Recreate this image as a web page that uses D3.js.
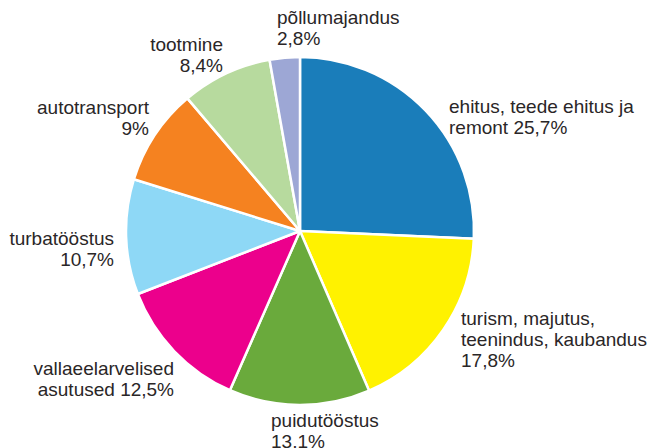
<!DOCTYPE html>
<html>
<head>
<meta charset="utf-8">
<script src="https://cdn.jsdelivr.net/npm/d3@7"></script>
<style>
  html, body { margin: 0; padding: 0; background: #fff; }
  svg { display: block; }
  text { font-family: "Liberation Sans", Arial, sans-serif; font-size: 19px; fill: #2a2627; }
</style>
</head>
<body>
<svg id="chart" width="650" height="448"></svg>
<script>
// Sector shares (%), clockwise from 12 o'clock
const categories = [
  "ehitus, teede ehitus ja remont",
  "turism, majutus, teenindus, kaubandus",
  "puidutööstus",
  "vallaeelarvelised asutused",
  "turbatööstus",
  "autotransport",
  "tootmine",
  "põllumajandus"
];
const values = [25.7, 17.8, 13.1, 12.5, 10.7, 9, 8.4, 2.8];
const colors = ["#1a7dba", "#fff200", "#6aaa3c", "#ec008c", "#8ed8f6", "#f58220", "#b7da9e", "#9da7d5"];
// Label text lines; {v} is replaced by the share
const labelLines = [
  ["ehitus, teede ehitus ja", "remont {v}"],
  ["turism, majutus,", "teenindus, kaubandus", "{v}"],
  ["puidutööstus", "{v}"],
  ["vallaeelarvelised", "asutused {v}"],
  ["turbatööstus", "{v}"],
  ["autotransport", "{v}"],
  ["tootmine", "{v}"],
  ["põllumajandus", "{v}"]
];

const fmt = v => String(v).replace(".", ",") + "%";

const svg = d3.select("#chart");
const cx = 300, cy = 231, r = 174;

const pie = d3.pie().sort(null).value(d => d.value);
const arc = d3.arc().innerRadius(0).outerRadius(r);

const data = categories.map((c, i) => ({ name: c, value: values[i], color: colors[i], lines: labelLines[i] }));
const arcs = pie(data);

const g = svg.append("g").attr("transform", `translate(${cx},${cy})`);
g.selectAll("path")
  .data(arcs)
  .join("path")
  .attr("d", arc)
  .attr("fill", d => d.data.color)
  .attr("stroke", "#fff")
  .attr("stroke-width", 2.5)
  .attr("stroke-linejoin", "round");

// Label placement: first baseline and alignment per slice
const labelPos = [
  { x: 449, y: 113, anchor: "start" },
  { x: 461, y: 325, anchor: "start" },
  { x: 271, y: 427, anchor: "start" },
  { x: 174, y: 375, anchor: "end" },
  { x: 114, y: 245, anchor: "end" },
  { x: 149, y: 114, anchor: "end" },
  { x: 223, y: 51, anchor: "end" },
  { x: 277, y: 24, anchor: "start" }
];
const lineH = 21;

svg.append("g").selectAll("text")
  .data(arcs)
  .join("text")
  .attr("x", (d, i) => labelPos[i].x)
  .attr("y", (d, i) => labelPos[i].y)
  .attr("text-anchor", (d, i) => labelPos[i].anchor)
  .each(function (d, i) {
    const t = d3.select(this);
    d.data.lines.forEach((ln, k) => {
      t.append("tspan")
        .attr("x", labelPos[i].x)
        .attr("dy", k === 0 ? 0 : lineH)
        .text(ln.replace("{v}", fmt(d.data.value)));
    });
  });
</script>
</body>
</html>
